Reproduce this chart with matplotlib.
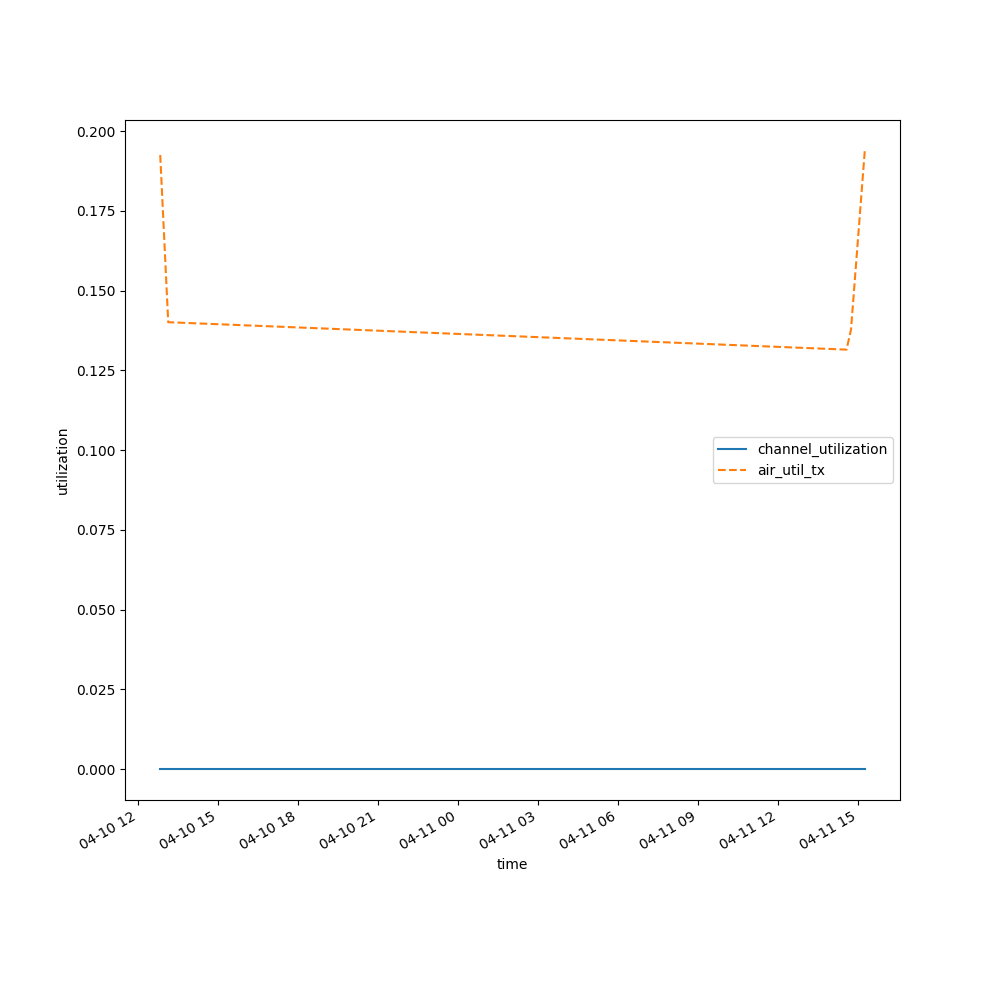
import pandas as pd
import matplotlib
matplotlib.use("Agg")
import matplotlib.pyplot as plt

# readings taken off the chart
times = pd.to_datetime([
    "2024-04-10 12:49",
    "2024-04-10 13:07",
    "2024-04-11 14:34",
    "2024-04-11 14:44",
    "2024-04-11 15:15",
])
channel_utilization = [0.0, 0.0, 0.0, 0.0, 0.0]
air_util_tx = [0.1925, 0.1401, 0.1315, 0.1378, 0.1938]

fig, ax = plt.subplots(figsize=(10, 10))
ax.plot(times, channel_utilization, "-", label="channel_utilization")
ax.plot(times, air_util_tx, "--", label="air_util_tx")

ax.set_xlabel("time")
ax.set_ylabel("utilization")
ax.legend(loc="center right")
fig.autofmt_xdate()

fig.savefig("out.png", dpi=100)
